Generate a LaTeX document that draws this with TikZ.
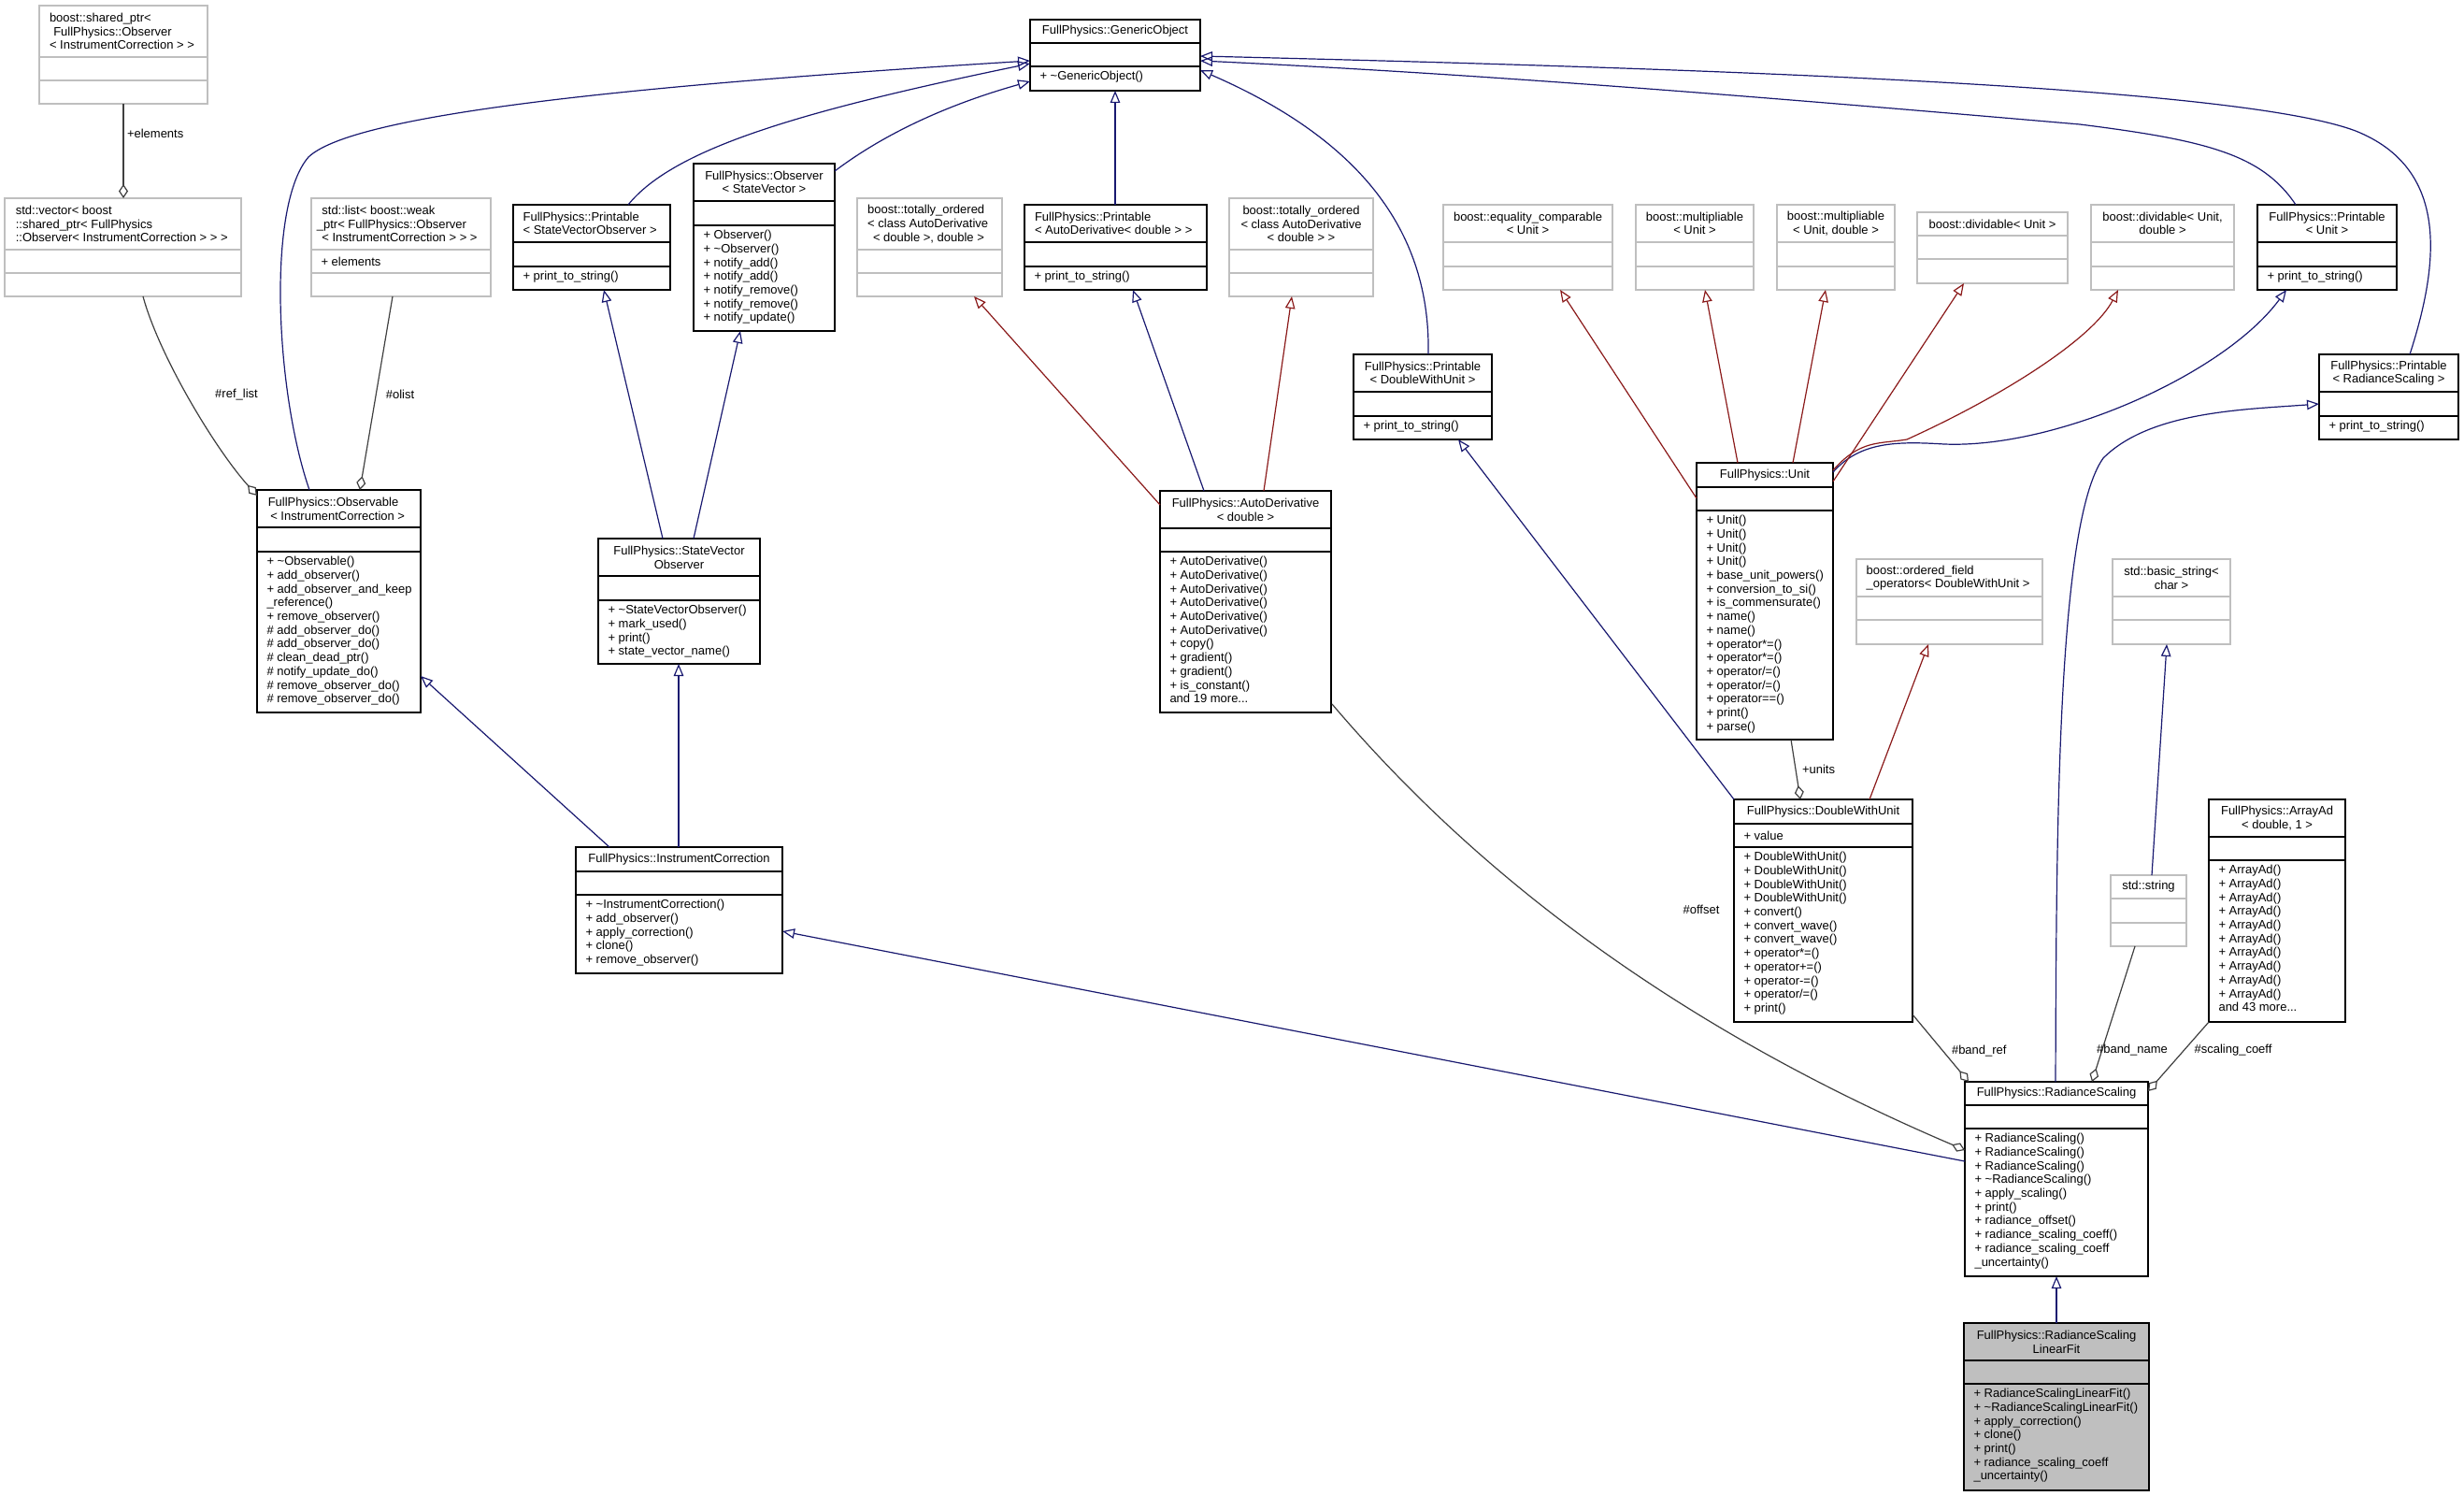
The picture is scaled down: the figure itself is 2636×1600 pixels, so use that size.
\documentclass[tikz,border=0pt]{standalone}
\usepackage{fontspec}
\setmainfont{Liberation Sans}
\usetikzlibrary{arrows.meta}
\definecolor{navyc}{HTML}{191970}
\definecolor{redc}{HTML}{8B1A1A}
\definecolor{aggc}{HTML}{404040}
\definecolor{extgray}{HTML}{BFBFBF}
\definecolor{selgray}{HTML}{BFBFBF}
\newcommand\tld{\textasciitilde}
% #1 name #2 style #3 x1 #4 y1 #5 x2 #6 y2 #7 sep1 #8 sep2
\newcommand\umlbox[8]{%
  \node[#2, anchor=north west, inner sep=0pt, outer sep=0pt,
        minimum width={(#5-#3)*1pt}, minimum height={(#6-#4)*1pt}] (#1) at (#3,#4) {};
  \draw[#2sep] (#3,#7) -- (#5,#7);
  \draw[#2sep] (#3,#8) -- (#5,#8);
  \coordinate (#1-t) at ({(#3+#5)/2},{(#4+#7)/2});
  \coordinate (#1-tl) at (#3,{(#4+#7)/2});
  \coordinate (#1-a) at (#3,{(#7+#8)/2});
  \coordinate (#1-m) at (#3,#8);
}
\newcommand\ttlc[2]{\node[txt,align=center] (#1-title) at (#1-t) {#2};}
\newcommand\ttll[3]{\node[txt,align=left,anchor=west] (#1-title) at ([xshift=#2pt]#1-tl) {#3};}
\newcommand\attr[2]{\node[txt,anchor=west] (#1-attr) at ([xshift=10.5pt]#1-a) {#2};}
\newcommand\meth[2]{\node[txt,align=left,anchor=north west] (#1-meth) at ([xshift=10.5pt,yshift=-4.2pt]#1-m) {\rule{0pt}{10.5pt}#2};}
\tikzset{
  txt/.style={font=\fontsize{13}{14.7}\selectfont, inner sep=0pt, outer sep=0pt, text=black},
  cls/.style={draw=black, line width=1.4pt, fill=white},
  clssep/.style={draw=black, line width=1.4pt},
  ext/.style={draw=extgray, line width=1.4pt, fill=white},
  extsep/.style={draw=extgray, line width=1.4pt},
  sel/.style={draw=black, line width=1.4pt, fill=selgray},
  selsep/.style={draw=black, line width=1.4pt},
  inh/.style={draw=navyc, line width=1.2pt, -{Triangle[open,length=13pt,width=10.5pt]}},
  priv/.style={draw=redc, line width=1.2pt, -{Triangle[open,length=13pt,width=10.5pt]}},
  agg/.style={draw=aggc, line width=1.2pt, {Diamond[open,length=15pt,width=10pt]}-},
  lbl/.style={txt}
}
\begin{document}
\begin{tikzpicture}[x=1pt,y=-1pt]
\fill[white] (0,0) rectangle (2636,1600);
\useasboundingbox (0,0) rectangle (2636,1600);

% ---------- boxes ----------
\umlbox{sp}{ext}{42}{6}{222}{111}{61}{86}
\ttll{sp}{11}{boost::shared\_ptr<\\\hspace*{4.3pt}FullPhysics::Observer\\< InstrumentCorrection > >}

\umlbox{vector}{ext}{5}{212}{258}{317}{267}{292}
\ttll{vector}{11.8}{std::vector< boost\\::shared\_ptr< FullPhysics\\::Observer< InstrumentCorrection > > >}

\umlbox{list}{ext}{333}{212}{525}{317}{267}{292}
\ttll{list}{11.4}{std::list< boost::weak\\\hspace*{-5.5pt}\_ptr< FullPhysics::Observer\\< InstrumentCorrection > > >}
\attr{list}{+ elements}

\umlbox{psvo}{cls}{549}{219}{717}{310}{259}{285}
\ttll{psvo}{10.6}{FullPhysics::Printable\\< StateVectorObserver >}
\meth{psvo}{+ print\_to\_string()}

\umlbox{obssv}{cls}{742}{175}{893}{354}{215}{241}
\ttlc{obssv}{FullPhysics::Observer\\< StateVector >}
\meth{obssv}{+ Observer()\\+ \tld Observer()\\+ notify\_add()\\+ notify\_add()\\+ notify\_remove()\\+ notify\_remove()\\+ notify\_update()}

\umlbox{generic}{cls}{1102}{21}{1284}{97}{46}{71}
\ttlc{generic}{FullPhysics::GenericObject}
\meth{generic}{+ \tld GenericObject()}

\umlbox{to1}{ext}{917}{212}{1072}{317}{267}{292}
\ttll{to1}{11.2}{boost::totally\_ordered\\< class AutoDerivative\\\hspace*{5.8pt}< double >, double >}

\umlbox{pad}{cls}{1096}{219}{1291}{310}{259}{285}
\ttll{pad}{11}{FullPhysics::Printable\\< AutoDerivative< double > >}
\meth{pad}{+ print\_to\_string()}

\umlbox{to2}{ext}{1315}{212}{1469}{317}{267}{292}
\ttlc{to2}{boost::totally\_ordered\\< class AutoDerivative\\< double > >}

\umlbox{eq}{ext}{1544}{219}{1725}{310}{259}{285}
\ttlc{eq}{boost::equality\_comparable\\< Unit >}

\umlbox{mul1}{ext}{1750}{219}{1876}{310}{259}{285}
\ttlc{mul1}{boost::multipliable\\< Unit >}

\umlbox{mul2}{ext}{1901}{219}{2027}{310}{259}{285}
\ttlc{mul2}{boost::multipliable\\< Unit, double >}

\umlbox{div1}{ext}{2051}{227}{2212}{303}{252}{277}
\ttlc{div1}{boost::dividable< Unit >}

\umlbox{div2}{ext}{2237}{219}{2390}{310}{259}{285}
\ttlc{div2}{boost::dividable< Unit,\\double >}

\umlbox{punit}{cls}{2415}{219}{2564}{310}{259}{285}
\ttlc{punit}{FullPhysics::Printable\\< Unit >}
\meth{punit}{+ print\_to\_string()}

\umlbox{pdwu}{cls}{1448}{379}{1596}{470}{419}{445}
\ttlc{pdwu}{FullPhysics::Printable\\< DoubleWithUnit >}
\meth{pdwu}{+ print\_to\_string()}

\umlbox{prs}{cls}{2481}{379}{2630}{470}{419}{445}
\ttlc{prs}{FullPhysics::Printable\\< RadianceScaling >}
\meth{prs}{+ print\_to\_string()}

\umlbox{obsable}{cls}{275}{524}{450}{762}{564}{590}
\ttll{obsable}{11.8}{FullPhysics::Observable\\\hspace*{2.5pt}< InstrumentCorrection >}
\meth{obsable}{+ \tld Observable()\\+ add\_observer()\\+ add\_observer\_and\_keep\\\_reference()\\+ remove\_observer()\\\# add\_observer\_do()\\\# add\_observer\_do()\\\# clean\_dead\_ptr()\\\# notify\_update\_do()\\\# remove\_observer\_do()\\\# remove\_observer\_do()}

\umlbox{svo}{cls}{640}{576}{813}{710}{616}{642}
\ttlc{svo}{FullPhysics::StateVector\\Observer}
\meth{svo}{+ \tld StateVectorObserver()\\+ mark\_used()\\+ print()\\+ state\_vector\_name()}

\umlbox{ad}{cls}{1241}{525}{1424}{762}{565}{590}
\ttlc{ad}{FullPhysics::AutoDerivative\\< double >}
\meth{ad}{+ AutoDerivative()\\+ AutoDerivative()\\+ AutoDerivative()\\+ AutoDerivative()\\+ AutoDerivative()\\+ AutoDerivative()\\+ copy()\\+ gradient()\\+ gradient()\\+ is\_constant()\\and 19 more...}

\umlbox{unit}{cls}{1815}{495}{1961}{791}{521}{546}
\ttlc{unit}{FullPhysics::Unit}
\meth{unit}{+ Unit()\\+ Unit()\\+ Unit()\\+ Unit()\\+ base\_unit\_powers()\\+ conversion\_to\_si()\\+ is\_commensurate()\\+ name()\\+ name()\\+ operator*=()\\+ operator*=()\\+ operator/=()\\+ operator/=()\\+ operator==()\\+ print()\\+ parse()}

\umlbox{ofo}{ext}{1986}{598}{2185}{689}{638}{663}
\ttll{ofo}{10.7}{boost::ordered\_field\\\_operators< DoubleWithUnit >}

\umlbox{bstr}{ext}{2260}{598}{2386}{689}{638}{663}
\ttlc{bstr}{std::basic\_string<\\char >}

\umlbox{ic}{cls}{616}{906}{837}{1041}{932}{957}
\ttlc{ic}{FullPhysics::InstrumentCorrection}
\meth{ic}{+ \tld InstrumentCorrection()\\+ add\_observer()\\+ apply\_correction()\\+ clone()\\+ remove\_observer()}

\umlbox{dwu}{cls}{1855}{855}{2046}{1093}{881}{906}
\ttlc{dwu}{FullPhysics::DoubleWithUnit}
\attr{dwu}{+ value}
\meth{dwu}{+ DoubleWithUnit()\\+ DoubleWithUnit()\\+ DoubleWithUnit()\\+ DoubleWithUnit()\\+ convert()\\+ convert\_wave()\\+ convert\_wave()\\+ operator*=()\\+ operator+=()\\+ operator-=()\\+ operator/=()\\+ print()}

\umlbox{str}{ext}{2258}{936}{2339}{1012}{961}{987}
\ttlc{str}{std::string}

\umlbox{arr}{cls}{2363}{855}{2509}{1093}{895}{920}
\ttlc{arr}{FullPhysics::ArrayAd\\< double, 1 >}
\meth{arr}{+ ArrayAd()\\+ ArrayAd()\\+ ArrayAd()\\+ ArrayAd()\\+ ArrayAd()\\+ ArrayAd()\\+ ArrayAd()\\+ ArrayAd()\\+ ArrayAd()\\+ ArrayAd()\\and 43 more...}

\umlbox{rs}{cls}{2102}{1157}{2298}{1365}{1182}{1207}
\ttlc{rs}{FullPhysics::RadianceScaling}
\meth{rs}{+ RadianceScaling()\\+ RadianceScaling()\\+ RadianceScaling()\\+ \tld RadianceScaling()\\+ apply\_scaling()\\+ print()\\+ radiance\_offset()\\+ radiance\_scaling\_coeff()\\+ radiance\_scaling\_coeff\\\_uncertainty()}

\umlbox{lf}{sel}{2101}{1415}{2299}{1594}{1455}{1480}
\ttlc{lf}{FullPhysics::RadianceScaling\\LinearFit}
\meth{lf}{+ RadianceScalingLinearFit()\\+ \tld RadianceScalingLinearFit()\\+ apply\_correction()\\+ clone()\\+ print()\\+ radiance\_scaling\_coeff\\\_uncertainty()}

% ---------- inheritance (public) ----------
\draw[inh] ([shift={(56,0)}]obsable.north west) .. controls (295,420) and (285,220) .. (330,168) .. controls (380,120) and (700,90) .. ([shift={(0,44)}]generic.north west);
\draw[inh] ([shift={(123,0)}]psvo.north west) .. controls (720,160) and (850,120) .. ([shift={(0,47)}]generic.north west);
\draw[inh] ([shift={(151,8)}]obssv.north west) .. controls (950,140) and (1020,110) .. ([shift={(0,66)}]generic.north west);
\draw[inh] ([shift={(97,0)}]pad.north west) -- ([shift={(91,76)}]generic.north west);
\draw[inh] ([shift={(80,0)}]pdwu.north west) .. controls (1530,270) and (1480,160) .. ([shift={(182,54)}]generic.north west);
\draw[inh] ([shift={(41,0)}]punit.north west) .. controls (2420,165) and (2360,150) .. (2225,133) .. controls (1900,105) and (1600,80) .. ([shift={(182,44)}]generic.north west);
\draw[inh] ([shift={(97,0)}]prs.north west) .. controls (2610,280) and (2620,180) .. (2520,140) .. controls (2400,95) and (1900,75) .. ([shift={(182,39)}]generic.north west);

\draw[inh] ([shift={(69,0)}]svo.north west) -- ([shift={(97,91)}]psvo.north west);
\draw[inh] ([shift={(102,0)}]svo.north west) -- ([shift={(50,179)}]obssv.north west);
\draw[inh] ([shift={(36,0)}]ic.north west) -- ([shift={(175,199)}]obsable.north west);
\draw[inh] ([shift={(110,0)}]ic.north west) -- ([shift={(86,134)}]svo.north west);
\draw[inh] ([shift={(0,85)}]rs.north west) -- ([shift={(221,90)}]ic.north west);
\draw[inh] ([shift={(47,0)}]ad.north west) -- ([shift={(116,91)}]pad.north west);
\draw[inh] ([shift={(146,10)}]unit.north west) .. controls (1990,472) and (2030,472) .. (2080,475) .. controls (2200,480) and (2380,400) .. ([shift={(31,91)}]punit.north west);
\draw[inh] ([shift={(44,0)}]str.north west) -- ([shift={(58,91)}]bstr.north west);
\draw[inh] (dwu.north west) -- ([shift={(112,91)}]pdwu.north west);
\draw[inh] ([shift={(97,0)}]rs.north west) .. controls (2200,900) and (2200,560) .. (2250,490) .. controls (2300,440) and (2400,438) .. ([shift={(0,53)}]prs.north west);
\draw[inh] ([shift={(99,0)}]lf.north west) -- ([shift={(98,208)}]rs.north west);

% ---------- inheritance (private) ----------
\draw[priv] ([shift={(0,15)}]ad.north west) -- ([shift={(125,105)}]to1.north west);
\draw[priv] ([shift={(111,0)}]ad.north west) -- ([shift={(67,105)}]to2.north west);
\draw[priv] ([shift={(0,38)}]unit.north west) -- ([shift={(125,91)}]eq.north west);
\draw[priv] ([shift={(44,0)}]unit.north west) -- ([shift={(74,91)}]mul1.north west);
\draw[priv] ([shift={(103,0)}]unit.north west) -- ([shift={(52,91)}]mul2.north west);
\draw[priv] ([shift={(146,20)}]unit.north west) -- ([shift={(50,76)}]div1.north west);
\draw[priv] ([shift={(146,8)}]unit.north west) .. controls (1990,470) and (2010,475) .. (2040,470) .. controls (2150,420) and (2240,360) .. ([shift={(29,91)}]div2.north west);
\draw[priv] ([shift={(145,0)}]dwu.north west) -- ([shift={(77,91)}]ofo.north west);

% ---------- aggregation ----------
\draw[agg] ([shift={(127,0)}]vector.north west) -- ([shift={(90,105)}]sp.north west);
\node[lbl,anchor=west] (l-elements) at (136,143) {+elements};
\draw[agg] ([shift={(0,6)}]obsable.north west) .. controls (230,480) and (170,380) .. ([shift={(148,105)}]vector.north west);
\node[lbl] (l-reflist) at (253,422) {\#ref\_list};
\draw[agg] ([shift={(110,0)}]obsable.north west) -- ([shift={(87,105)}]list.north west);
\node[lbl] (l-olist) at (428,422) {\#olist};
\draw[agg] ([shift={(71,0)}]dwu.north west) -- ([shift={(101,296)}]unit.north west);
\node[lbl,anchor=west] (l-units) at (1928,823) {+units};
\draw[agg] ([shift={(0,73)}]rs.north west) .. controls (1750,1080) and (1550,900) .. ([shift={(184,228)}]ad.north west);
\node[lbl] (l-offset) at (1820,973) {\#offset};
\draw[agg] ([shift={(4,0)}]rs.north west) -- ([shift={(191,230)}]dwu.north west);
\node[lbl,anchor=west] (l-bandref) at (2088,1124) {\#band\_ref};
\draw[agg] ([shift={(136,0)}]rs.north west) -- ([shift={(26,76)}]str.north west);
\node[lbl] (l-bandname) at (2281,1123) {\#band\_name};
\draw[agg] ([shift={(196,10)}]rs.north west) -- ([shift={(0,238)}]arr.north west);
\node[lbl] (l-scoeff) at (2389,1123) {\#scaling\_coeff};
\end{tikzpicture}
\end{document}
